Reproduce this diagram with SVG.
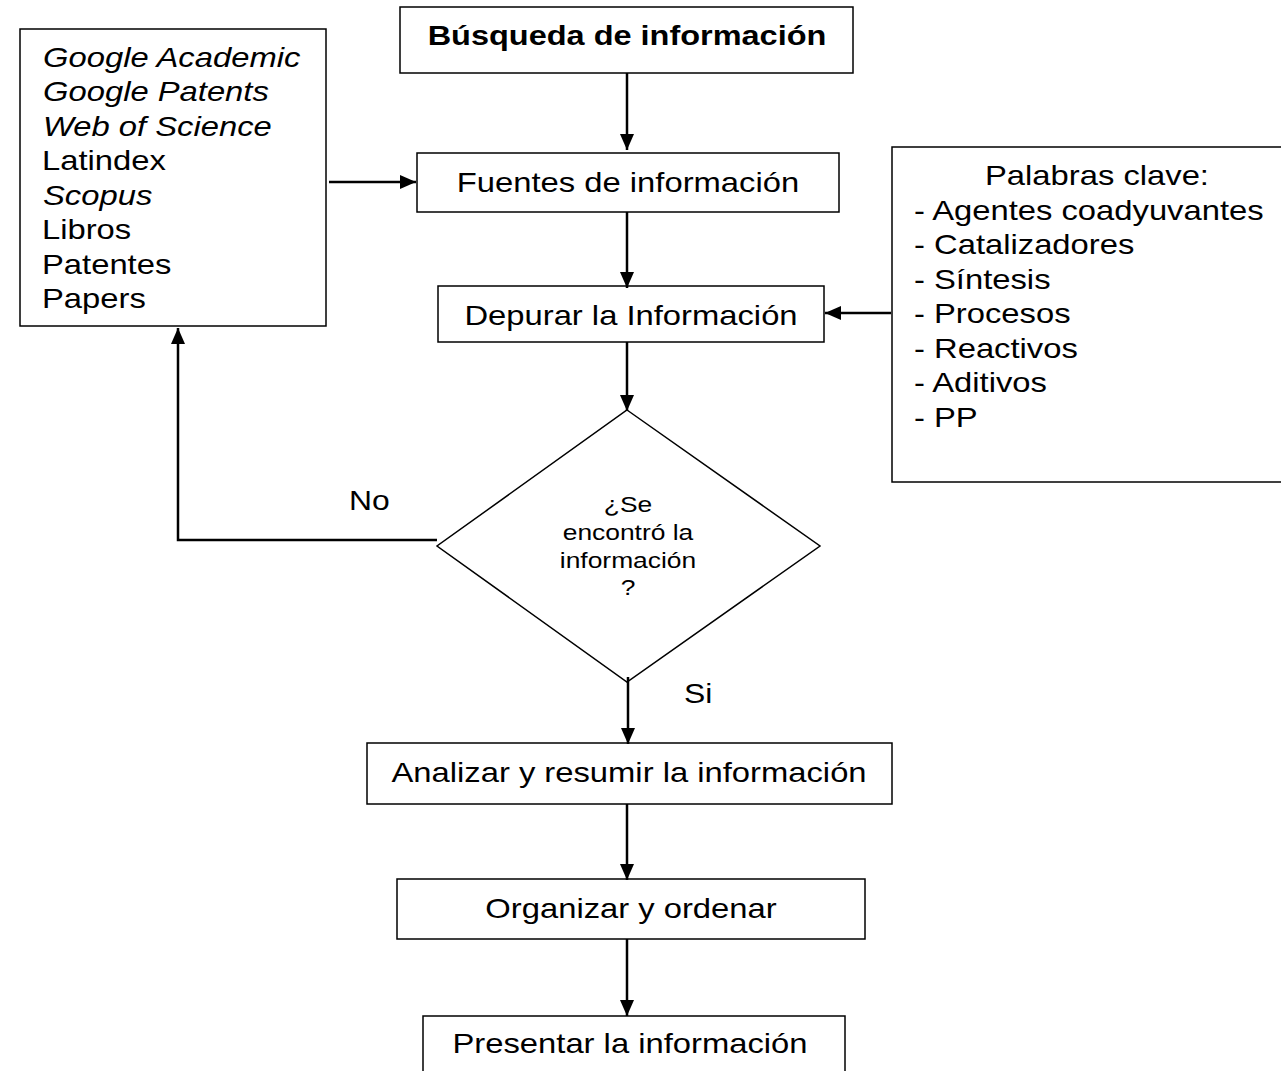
<svg xmlns="http://www.w3.org/2000/svg" width="1281" height="1071" viewBox="0 0 1281 1071">
<style>
.box{fill:#fff;stroke:#000;stroke-width:1.5}
.t{font-family:"Liberation Sans",Arial,sans-serif;font-size:28px;fill:#000}
.c{text-anchor:middle}
.i{font-style:italic}
.b{font-weight:bold}
.s{font-family:"Liberation Sans",Arial,sans-serif;font-size:22px;fill:#000;text-anchor:middle}
.l{font-family:"Liberation Sans",Arial,sans-serif;font-size:27px;fill:#000}
.conn{fill:none;stroke:#000;stroke-width:2.5}
</style>
<defs>
<marker id="ah2" markerWidth="16" markerHeight="14" viewBox="0 0 16 14" refX="16" refY="7" orient="auto" markerUnits="userSpaceOnUse">
<path d="M0,0 L16,7 L0,14 Z" fill="#000"/>
</marker>
</defs>
<rect width="1281" height="1071" fill="#fff"/>

<g id="fuentes-lista">
<rect class="box" x="20" y="29" width="306" height="297"/>
<text class="t i" transform="translate(43,67) scale(1.17,1)">Google Academic</text>
<text class="t i" transform="translate(43,101) scale(1.17,1)">Google Patents</text>
<text class="t i" transform="translate(43,136) scale(1.17,1)">Web of Science</text>
<text class="t" transform="translate(42,170) scale(1.17,1)">Latindex</text>
<text class="t i" transform="translate(43,205) scale(1.17,1)">Scopus</text>
<text class="t" transform="translate(42,239) scale(1.17,1)">Libros</text>
<text class="t" transform="translate(42,274) scale(1.17,1)">Patentes</text>
<text class="t" transform="translate(42,308) scale(1.17,1)">Papers</text>
</g>

<g id="busqueda">
<rect class="box" x="400" y="7" width="453" height="66"/>
<text class="t b c" transform="translate(627,45) scale(1.16,1)">Búsqueda de información</text>
</g>

<g id="fuentes">
<rect class="box" x="417" y="153" width="422" height="59"/>
<text class="t c" transform="translate(628,192) scale(1.17,1)">Fuentes de información</text>
</g>

<g id="depurar">
<rect class="box" x="438" y="286" width="386" height="56"/>
<text class="t c" transform="translate(631,325) scale(1.17,1)">Depurar la Información</text>
</g>

<g id="palabras">
<rect class="box" x="892" y="147" width="400" height="335"/>
<text class="t c" transform="translate(1097,185) scale(1.17,1)">Palabras clave:</text>
<text class="t" transform="translate(914,220) scale(1.17,1)">- Agentes coadyuvantes</text>
<text class="t" transform="translate(914,254) scale(1.17,1)">- Catalizadores</text>
<text class="t" transform="translate(914,289) scale(1.17,1)">- Síntesis</text>
<text class="t" transform="translate(914,323) scale(1.17,1)">- Procesos</text>
<text class="t" transform="translate(914,358) scale(1.17,1)">- Reactivos</text>
<text class="t" transform="translate(914,392) scale(1.17,1)">- Aditivos</text>
<text class="t" transform="translate(914,427) scale(1.17,1)">- PP</text>
</g>

<g id="decision">
<polygon class="box" points="627,410 820,546 627,682 437,546"/>
<text class="s" transform="translate(628,512) scale(1.2,1)">¿Se</text>
<text class="s" transform="translate(628,540) scale(1.2,1)">encontró la</text>
<text class="s" transform="translate(628,568) scale(1.2,1)">información</text>
<text class="s" transform="translate(628,595) scale(1.2,1)">?</text>
</g>

<g id="analizar">
<rect class="box" x="367" y="743" width="525" height="61"/>
<text class="t c" transform="translate(629,782) scale(1.17,1)">Analizar y resumir la información</text>
</g>

<g id="organizar">
<rect class="box" x="397" y="879" width="468" height="60"/>
<text class="t c" transform="translate(631,918) scale(1.17,1)">Organizar y ordenar</text>
</g>

<g id="presentar">
<rect class="box" x="423" y="1016" width="422" height="70"/>
<text class="t c" transform="translate(630,1053) scale(1.17,1)">Presentar la información</text>
</g>

<g id="connectors">
<line class="conn" x1="627" y1="73" x2="627" y2="150" marker-end="url(#ah2)"/>
<line class="conn" x1="329" y1="182" x2="416" y2="182" marker-end="url(#ah2)"/>
<line class="conn" x1="627" y1="212" x2="627" y2="288" marker-end="url(#ah2)"/>
<line class="conn" x1="891" y1="313" x2="825" y2="313" marker-end="url(#ah2)"/>
<line class="conn" x1="627" y1="342" x2="627" y2="411" marker-end="url(#ah2)"/>
<polyline class="conn" points="437,540 178,540 178,328" marker-end="url(#ah2)"/>
<line class="conn" x1="628" y1="677" x2="628" y2="744" marker-end="url(#ah2)"/>
<line class="conn" x1="627" y1="804" x2="627" y2="880" marker-end="url(#ah2)"/>
<line class="conn" x1="627" y1="939" x2="627" y2="1016" marker-end="url(#ah2)"/>
<text class="l" transform="translate(349,510) scale(1.18,1)">No</text>
<text class="l" transform="translate(684,703) scale(1.18,1)">Si</text>
</g>
</svg>
